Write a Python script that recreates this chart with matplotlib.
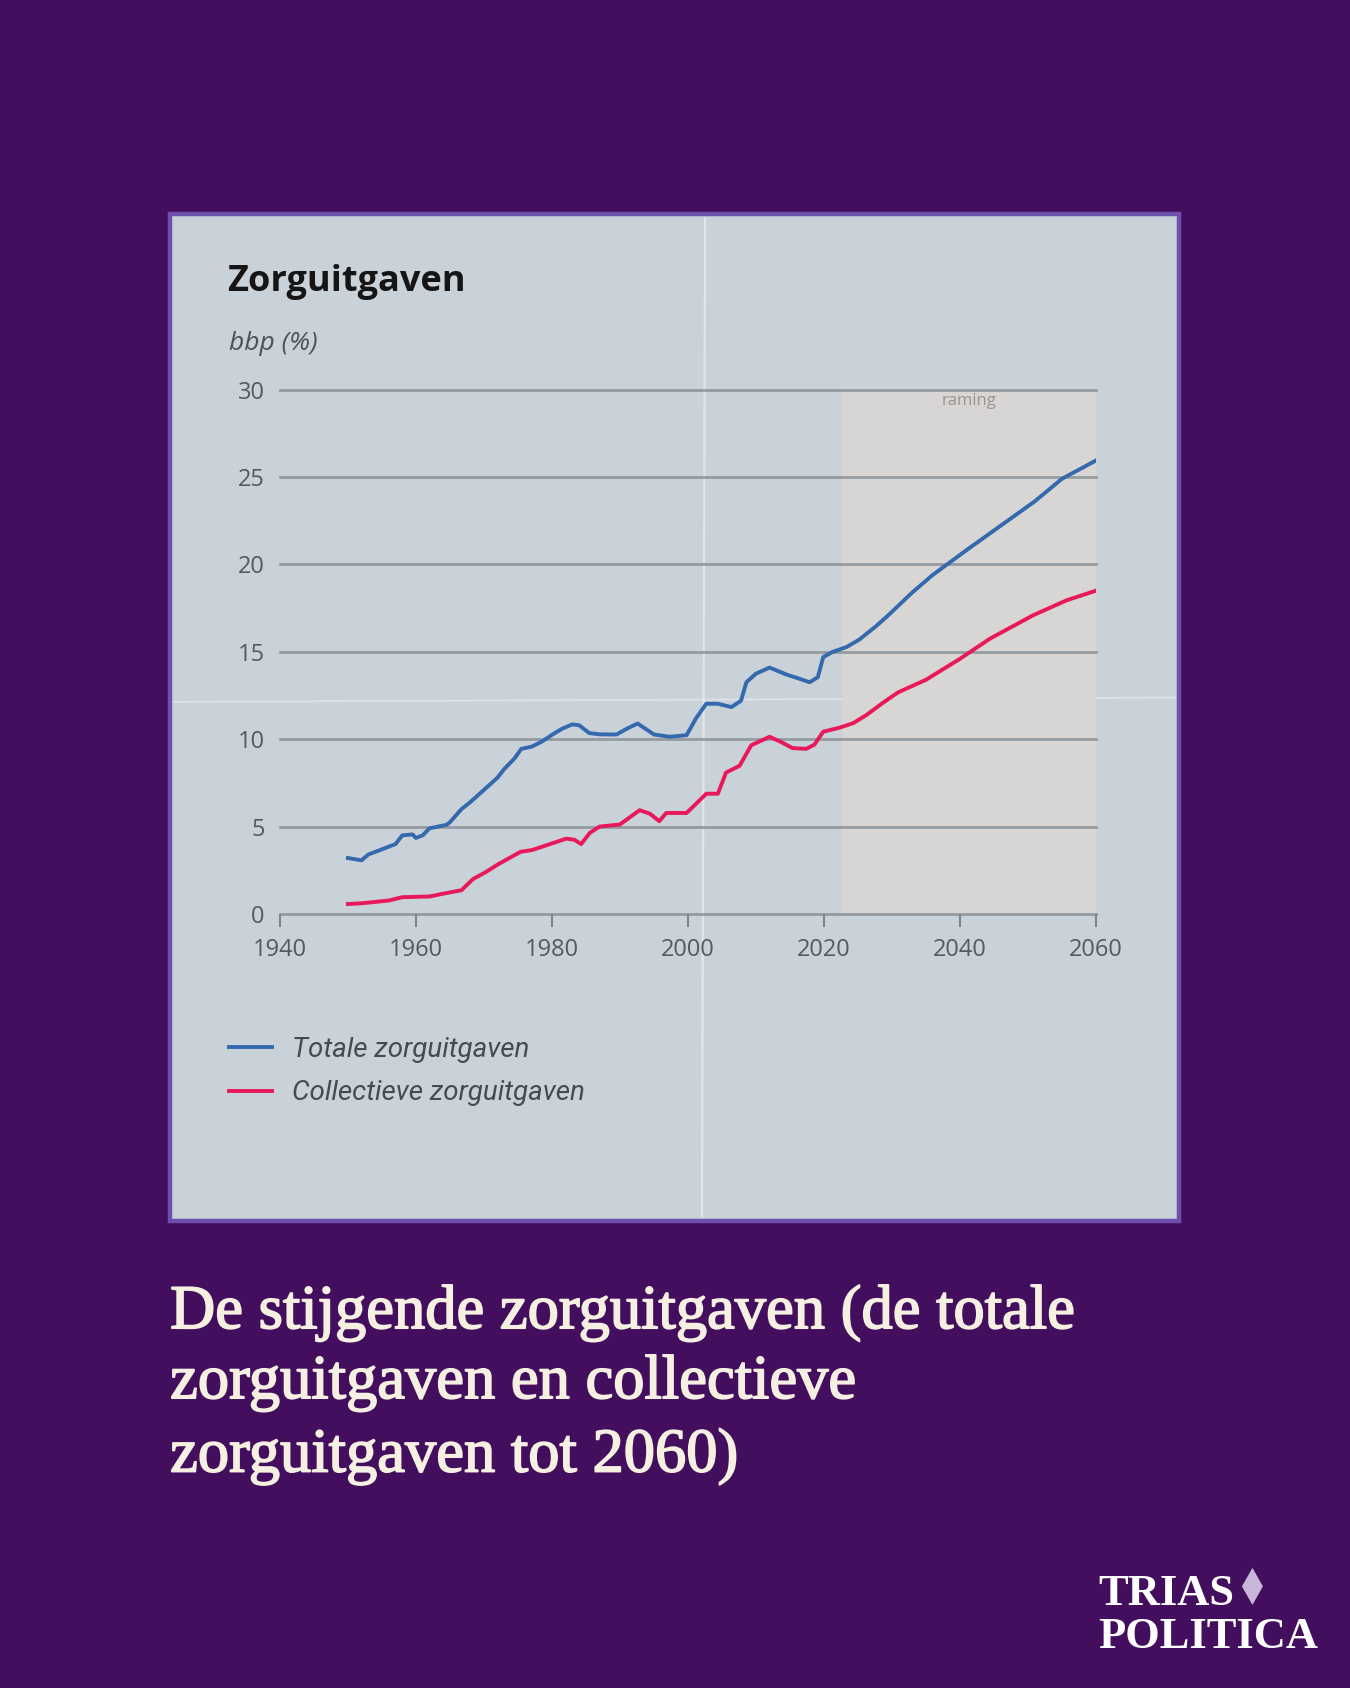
import matplotlib
matplotlib.use("Agg")
import matplotlib.pyplot as plt
from matplotlib.patches import Rectangle, Polygon
from matplotlib.lines import Line2D
import matplotlib.patheffects as pe

# ---------------- data ----------------
total_years = [1950, 1952, 1953, 1955, 1957, 1958, 1959.5, 1960, 1961, 1962, 1964.5, 1965,
               1966.7, 1968, 1970, 1972, 1973, 1974.5, 1975.5, 1977, 1978.5, 1980, 1981.5,
               1983, 1984, 1985.5, 1987, 1989.5, 1991, 1992.6, 1995, 1997.3, 1999.8, 2001.2,
               2002.7, 2004.4, 2006.4, 2007.8, 2008.6, 2010, 2012, 2014.5, 2016.4, 2017.9,
               2019.1, 2019.9, 2021.3, 2023.3, 2025.2, 2027.7, 2029.4, 2033, 2036, 2041,
               2046, 2051, 2055, 2060]
total_values = [3.2, 3.07, 3.4, 3.7, 4.0, 4.5, 4.55, 4.35, 4.5, 4.9, 5.1, 5.25,
                6.0, 6.4, 7.1, 7.8, 8.3, 8.9, 9.45, 9.57, 9.86, 10.25, 10.6,
                10.85, 10.8, 10.35, 10.28, 10.27, 10.6, 10.9, 10.27, 10.14, 10.23, 11.2,
                12.03, 12.03, 11.84, 12.2, 13.26, 13.75, 14.1, 13.7, 13.46, 13.26,
                13.55, 14.7, 15.0, 15.27, 15.7, 16.48, 17.07, 18.4, 19.4, 20.83,
                22.22, 23.61, 24.9, 25.95]

collective_years = [1950, 1952, 1956, 1958, 1962, 1964, 1966.7, 1968.4, 1970.2, 1972.2,
                    1973.6, 1975.4, 1977.1, 1979.1, 1982.1, 1983.3, 1984.3, 1985.6, 1987,
                    1990, 1992.9, 1994.4, 1995.8, 1996.8, 1999.8, 2001, 2002.7, 2004.4,
                    2005.6, 2007.6, 2009.3, 2012, 2013.7, 2015.4, 2017.4, 2018.6, 2019.9,
                    2022.3, 2024.3, 2026.2, 2028.7, 2030.9, 2035, 2040, 2044.4, 2050.8,
                    2055.7, 2060]
collective_values = [0.57, 0.61, 0.77, 0.96, 1.0, 1.16, 1.36, 2.0, 2.38, 2.87,
                     3.17, 3.56, 3.66, 3.92, 4.31, 4.25, 4.0, 4.65, 5.0,
                     5.12, 5.94, 5.74, 5.31, 5.78, 5.78, 6.23, 6.88, 6.88,
                     8.09, 8.48, 9.65, 10.14, 9.84, 9.49, 9.45, 9.69, 10.43,
                     10.66, 10.92, 11.37, 12.09, 12.68, 13.4, 14.6, 15.75, 17.1,
                     17.95, 18.5]

projection_start = 2022.7
projection_end = 2060

x_ticks = [1940, 1960, 1980, 2000, 2020, 2040, 2060]
y_ticks = [0, 5, 10, 15, 20, 25, 30]

series_labels = ["Totale zorguitgaven", "Collectieve zorguitgaven"]
chart_title = "Zorguitgaven"
unit_label = "bbp (%)"
projection_label = "raming"
caption_lines = ["De stijgende zorguitgaven (de totale",
                 "zorguitgaven en collectieve",
                 "zorguitgaven tot 2060)"]
logo_lines = ["TRIAS", "POLITICA"]

# ---------------- style ----------------
BG = "#430e5d"
PANEL = "#c9d1d9"
SHADE = "#d8d5d5"
BORDER = "#6d50ae"
GRID = "#8a9297"
TICKTXT = "#555a5e"
BLUE = "#3569ad"
RED = "#e8195a"
CREAM = "#f6f0e2"

W, H = 1254.0, 1568.0  # reference layout units


def fx(x):
    return x / W


def fy(y):
    return 1 - y / H


fig = plt.figure(figsize=(13.5, 16.88), dpi=100)
fig.patch.set_facecolor(BG)

# paper panel
panel = Rectangle((fx(158), fy(1134)), fx(1095) - fx(158), fy(199) - fy(1134),
                  transform=fig.transFigure, facecolor=PANEL, edgecolor=BORDER,
                  linewidth=3.2, zorder=-2)
fig.add_artist(panel)

# fold creases
fig.add_artist(Line2D([fx(655), fx(652)], [fy(203), fy(1130)], transform=fig.transFigure,
                      color="white", alpha=0.45, lw=1.6, zorder=-1))
fig.add_artist(Line2D([fx(162), fx(1091)], [fy(652), fy(648)], transform=fig.transFigure,
                      color="white", alpha=0.35, lw=1.4, zorder=-1))

ax = fig.add_axes([fx(260), fy(849), fx(1018) - fx(260), fy(362) - fy(849)], zorder=2)
ax.set_facecolor("none")
ax.set_xlim(1940, 2060)
ax.set_ylim(0, 30)

ax.axvspan(projection_start, projection_end, color=SHADE, zorder=0, lw=0)

for yv in y_ticks:
    ax.axhline(yv, color=GRID, lw=2.0, alpha=0.85, zorder=1, clip_on=False)

l1, = ax.plot(total_years, total_values, color=BLUE, lw=2.8, zorder=3,
              label=series_labels[0], solid_joinstyle="round")
l2, = ax.plot(collective_years, collective_values, color=RED, lw=2.8, zorder=3,
              label=series_labels[1], solid_joinstyle="round")

for s in ax.spines.values():
    s.set_visible(False)

ax.set_xticks(x_ticks)
ax.set_xticklabels([str(v) for v in x_ticks], family="Open Sans", fontsize=17, color=TICKTXT)
ax.set_yticks(y_ticks)
ax.set_yticklabels([str(v) for v in y_ticks], family="Open Sans", fontsize=17, color=TICKTXT)
ax.tick_params(axis="x", direction="out", length=9, width=1.5, color="#80878c", pad=8)
ax.tick_params(axis="y", length=0, pad=11)

ax.text(2041.3, 29.35, projection_label, fontsize=12, color="#9c9292",
        ha="center", va="center", family="Open Sans")

# title texts
fig.text(fx(211), fy(270), chart_title, family="Open Sans", weight="bold",
         fontsize=26, color="#151515", va="baseline", ha="left")
fig.text(fx(213), fy(325), unit_label, family="Open Sans", style="italic",
         fontsize=19, color="#4d5256", va="baseline", ha="left")

# legend
leg = fig.legend(handles=[l1, l2], loc="upper left", bbox_to_anchor=(fx(213), fy(963)),
                 frameon=False, handlelength=1.55, handletextpad=0.7, labelspacing=0.64,
                 borderpad=0, borderaxespad=0,
                 prop={"family": "Roboto", "style": "italic", "size": 20})
for t in leg.get_texts():
    t.set_color("#454b50")

# caption
cap_base = [1233.8, 1298.8, 1367.0]
for line, yb in zip(caption_lines, cap_base):
    fig.text(fx(158), fy(yb), line, family="Liberation Serif", fontsize=45,
             color=CREAM, va="baseline", ha="left",
             path_effects=[pe.withStroke(linewidth=1.2, foreground=CREAM)])

# logo
fig.text(fx(1020), fy(1490.8), logo_lines[0], family="Liberation Serif", weight="bold",
         fontsize=32, color="white", va="baseline", ha="left")
fig.text(fx(1020), fy(1530.7), logo_lines[1], family="Liberation Serif", weight="bold",
         fontsize=32, color="white", va="baseline", ha="left")
diamond = Polygon([(fx(1163.4), fy(1456.4)), (fx(1173.1), fy(1473.6)),
                   (fx(1163.4), fy(1490.8)), (fx(1153.6), fy(1473.6))],
                  closed=True, transform=fig.transFigure, facecolor="#c7b6d9",
                  edgecolor="none")
fig.add_artist(diamond)

fig.savefig("out.png", dpi=100, facecolor=BG)
